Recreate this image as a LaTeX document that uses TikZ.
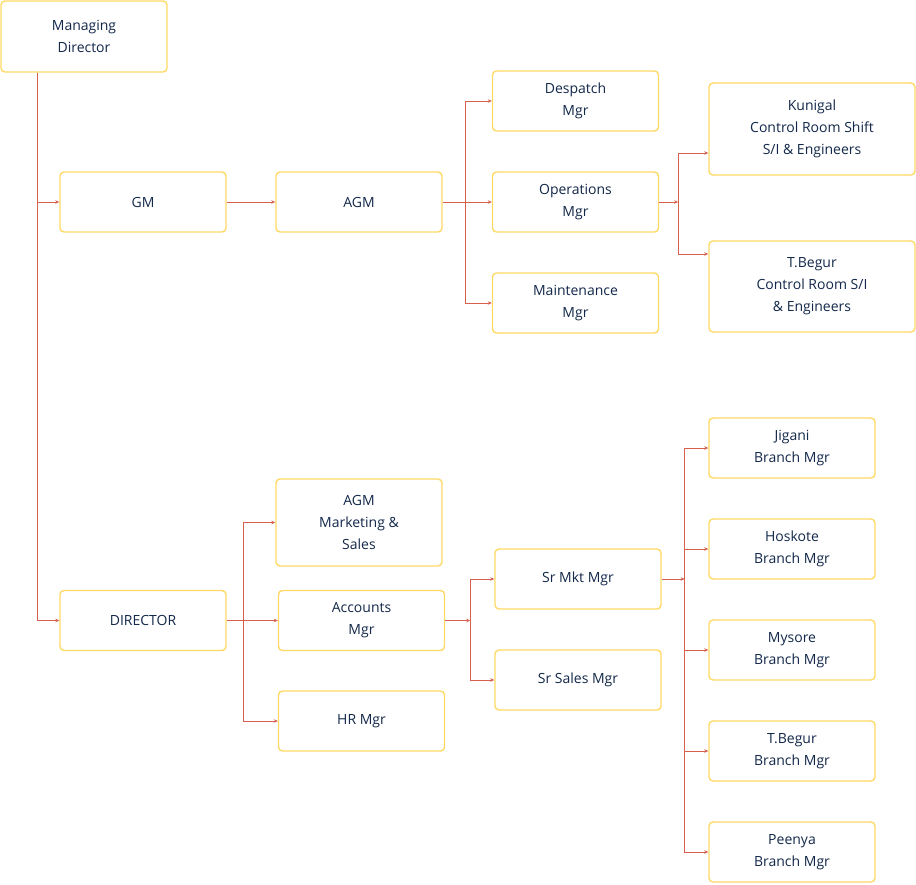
\documentclass[tikz,border=0pt]{standalone}
\usepackage{fontspec}
\setmainfont{Open Sans}
\usetikzlibrary{arrows.meta,calc}
\definecolor{boxc}{HTML}{FFD966}
\definecolor{linec}{HTML}{D6604D}
\definecolor{txtc}{HTML}{13284A}
\begin{document}
\begin{tikzpicture}[x=1pt,y=-1pt,
 box/.style={draw=boxc,line width=1.4pt,rounded corners=4pt,fill=white,text=txtc,align=center,font=\fontsize{14}{22}\selectfont,minimum width=166pt,minimum height=60pt,inner sep=0pt},
 conn/.style={draw=linec,line width=0.9pt,-{Stealth[length=4pt,width=3.5pt]}},
 link/.style={draw=linec,line width=0.9pt}]
\useasboundingbox (0,0) rectangle (916,884);
\node[box,minimum height=71pt] (md) at (84,36.5) {Managing\\Director};
\node[box] (gm) at (143,202) {GM};
\node[box] (agm) at (359,202) {AGM};
\node[box] (desp) at (575.5,101) {Despatch\\Mgr};
\node[box] (ops) at (575.5,202) {Operations\\Mgr};
\node[box] (mnt) at (575.5,303) {Maintenance\\Mgr};
\node[box,minimum width=206pt,minimum height=92pt] (kun) at (812,129) {Kunigal\\Control Room Shift\\S/I \& Engineers};
\node[box,minimum width=206pt,minimum height=91pt] (tbc) at (812,286.5) {T.Begur\\Control Room S/I\\\& Engineers};
\node[box] (dir) at (143,620.5) {DIRECTOR};
\node[box,minimum height=87pt] (agmm) at (359,522.5) {AGM\\Marketing \&\\Sales};
\node[box] (acc) at (361.5,620.5) {Accounts\\Mgr};
\node[box] (hr) at (361.5,721) {HR Mgr};
\node[box] (smkt) at (578,579) {Sr Mkt Mgr};
\node[box] (ssales) at (578,680) {Sr Sales Mgr};
\node[box] (jig) at (792,448) {Jigani\\Branch Mgr};
\node[box] (hos) at (792,549) {Hoskote\\Branch Mgr};
\node[box] (mys) at (792,650) {Mysore\\Branch Mgr};
\node[box] (tbb) at (792,751) {T.Begur\\Branch Mgr};
\node[box] (pee) at (792,852) {Peenya\\Branch Mgr};
% MD
\coordinate (mdo) at ($(md.south west)+(37,0)$);
\draw[conn] (mdo) |- (gm.west);
\draw[conn] (mdo) |- (dir.west);
% GM -> AGM
\draw[conn] (gm.east) -- (agm.west);
% AGM fork
\coordinate (fa) at ($(agm.east)+(23,0)$);
\draw[conn] (agm.east) -- (ops.west);
\draw[conn] (fa) |- (desp.west);
\draw[conn] (fa) |- (mnt.west);
% Operations fork
\coordinate (fo) at ($(ops.east)+(19,0)$);
\draw[conn] (ops.east) -- (fo);
\draw[conn] (fo) |- ($(kun.west)+(0,24)$);
\draw[conn] (fo) |- ($(tbc.west)+(0,-32.5)$);
% Director fork
\coordinate (fd) at ($(dir.east)+(17,0)$);
\draw[conn] (dir.east) -- (acc.west);
\draw[conn] (fd) |- (agmm.west);
\draw[conn] (fd) |- (hr.west);
% Accounts fork
\coordinate (fc) at ($(acc.east)+(25,0)$);
\draw[conn] (acc.east) -- (fc);
\draw[conn] (fc) |- (smkt.west);
\draw[conn] (fc) |- (ssales.west);
% Sr Mkt fork
\coordinate (fs) at ($(smkt.east)+(23,0)$);
\draw[conn] (smkt.east) -- (fs);
\draw[conn] (fs) |- (jig.west);
\draw[conn] (fs) |- (hos.west);
\draw[conn] (fs) |- (mys.west);
\draw[conn] (fs) |- (tbb.west);
\draw[conn] (fs) |- (pee.west);
\end{tikzpicture}
\end{document}
